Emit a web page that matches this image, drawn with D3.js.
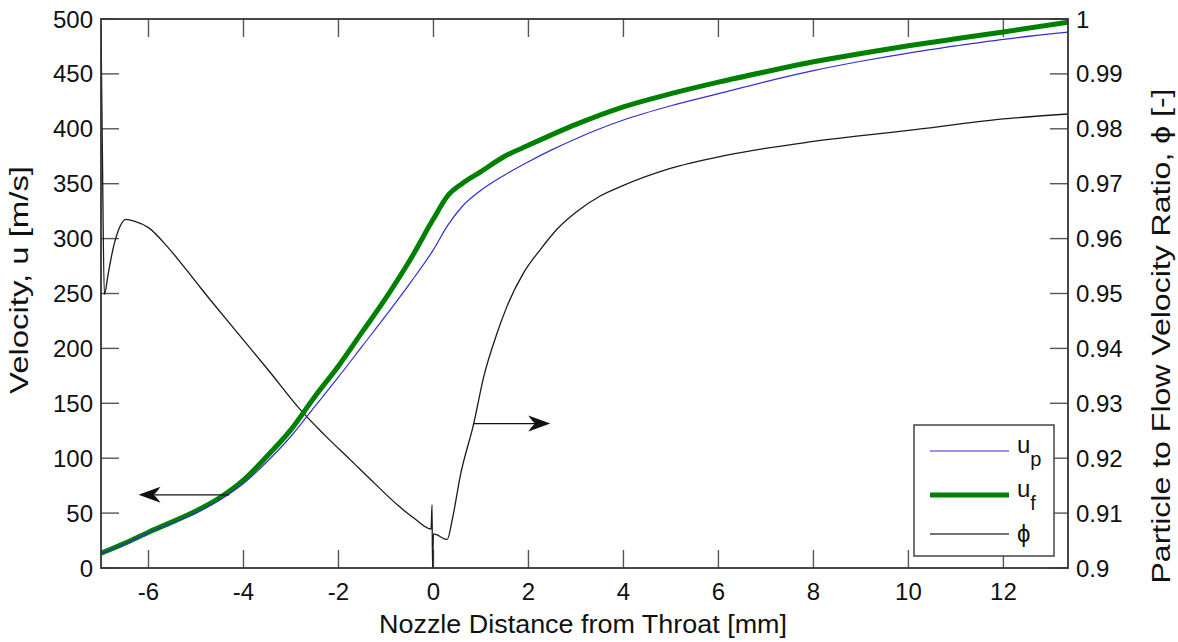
<!DOCTYPE html>
<html>
<head>
<meta charset="utf-8">
<script src="https://cdn.jsdelivr.net/npm/d3@7"></script>
<style>
  html, body { margin: 0; padding: 0; background: #fff; }
  svg { display: block; }
  text { font-family: "Liberation Sans", Arial, sans-serif; fill: #111; }
</style>
</head>
<body>
<svg id="chart" width="1178" height="642"></svg>
<script>
// ---------------- DATA ----------------
const xDomain = [-7, 13.36];
const xTicks = [-6, -4, -2, 0, 2, 4, 6, 8, 10, 12];
const leftTicks = [0, 50, 100, 150, 200, 250, 300, 350, 400, 450, 500];
const rightTicks = [0.9, 0.91, 0.92, 0.93, 0.94, 0.95, 0.96, 0.97, 0.98, 0.99, 1];
const rightTickLabels = ["0.9", "0.91", "0.92", "0.93", "0.94", "0.95", "0.96", "0.97", "0.98", "0.99", "1"];

// flow velocity u_f [m/s]
const ufX = [-7, -6.5, -6, -5.5, -5, -4.5, -4, -3.5, -3, -2.5, -2, -1.5, -1, -0.5, 0, 0.3, 0.6, 1, 1.5, 2, 3, 4, 5, 6, 7, 8, 9, 10, 11, 12, 13.36];
const ufY = [13.4, 22.5, 32.6, 42, 52, 64, 80, 102, 126, 156, 184, 215, 246, 280, 318, 339, 350, 361, 375, 385, 404, 420, 432, 442.5, 452, 461, 468.5, 475.6, 482, 488.2, 497];

// particle velocity u_p [m/s]
const upX = [-7, -6.5, -6, -5.5, -5, -4.5, -4, -3.5, -3, -2.5, -2, -1.5, -1, -0.5, 0, 0.3, 0.6, 1, 1.5, 2, 2.5, 3, 3.5, 4, 5, 6, 7, 8, 9, 10, 11, 12, 13.36];
const upY = [13, 22, 32, 41, 50, 62, 77, 97, 120, 147, 174, 202, 230, 259, 290, 312, 329, 344, 358, 370, 381, 391, 400, 408, 421, 432, 443, 453, 461.5, 469, 475.5, 481.5, 488];

// particle to flow velocity ratio phi [-]
const phiX = [-7, -6.97, -6.93, -6.85, -6.75, -6.6, -6.48, -6.3, -6.0, -5.6, -5.2, -4.9, -4.2, -3.5, -2.8, -2.3, -1.75, -1.25, -0.76, -0.4, -0.05, -0.03, -0.02, 0.0, 0.29, 0.4, 0.57, 0.85, 1.06, 1.34, 1.55, 1.9, 2.25, 2.6, 3.0, 3.52, 4.0, 4.92, 6.18, 8, 10, 12, 13.36];
const phiY = [0.999, 0.975, 0.9498, 0.9535, 0.958, 0.9622, 0.9635, 0.9632, 0.962, 0.9585, 0.9543, 0.951, 0.9436, 0.9363, 0.9288, 0.9243, 0.9197, 0.9155, 0.9115, 0.909, 0.9071, 0.9115, 0.9, 0.9062, 0.9052, 0.909, 0.917, 0.9264, 0.9349, 0.9428, 0.9477, 0.9538, 0.958, 0.9617, 0.9648, 0.9678, 0.9697, 0.9726, 0.9752, 0.9777, 0.9797, 0.9818, 0.9827];

// annotation arrows (data coordinates)
const leftArrow = { x0: -4.3, x1: -6.21, y: 66.6 };      // on velocity axis
const rightArrow = { x0: 0.84, x1: 2.46, y: 0.9263 };    // on ratio axis

const legendItems = ["up", "uf", "phi"];

// ---------------- LAYOUT ----------------
const svg = d3.select("#chart");
const L = 101, R = 1068, T = 19, B = 568;

const x = d3.scaleLinear().domain(xDomain).range([L, R]);
const yL = d3.scaleLinear().domain([0, 500]).range([B, T]);
const yR = d3.scaleLinear().domain([0.9, 1]).range([B, T]);

const tickLen = 18;
const fontTick = 24;

svg.append("clipPath").attr("id", "clip")
  .append("rect").attr("x", L).attr("y", T).attr("width", R - L).attr("height", B - T);

// ticks (inward)
const tg = svg.append("g").attr("stroke", "#555").attr("stroke-width", 1.4);
xTicks.forEach(v => {
  tg.append("line").attr("x1", x(v)).attr("x2", x(v)).attr("y1", B).attr("y2", B - tickLen);
  tg.append("line").attr("x1", x(v)).attr("x2", x(v)).attr("y1", T).attr("y2", T + tickLen);
});
leftTicks.forEach(v => {
  tg.append("line").attr("x1", L).attr("x2", L + tickLen).attr("y1", yL(v)).attr("y2", yL(v));
});
rightTicks.forEach(v => {
  tg.append("line").attr("x1", R).attr("x2", R - tickLen).attr("y1", yR(v)).attr("y2", yR(v));
});

// tick labels
svg.append("g").selectAll("text").data(xTicks).join("text")
  .attr("x", d => x(d)).attr("y", 600)
  .attr("text-anchor", "middle").attr("font-size", fontTick)
  .text(d => d < 0 ? "-" + Math.abs(d) : d);
svg.append("g").selectAll("text").data(leftTicks).join("text")
  .attr("x", 93).attr("y", d => yL(d) + 8.5)
  .attr("text-anchor", "end").attr("font-size", fontTick)
  .text(d => d);
svg.append("g").selectAll("text").data(rightTicks).join("text")
  .attr("x", 1076).attr("y", d => yR(d) + 8.5)
  .attr("text-anchor", "start").attr("font-size", fontTick)
  .text((d, i) => rightTickLabels[i]);

// axis titles
svg.append("text").attr("x", 583).attr("y", 633)
  .attr("text-anchor", "middle").attr("font-size", 25)
  .attr("textLength", 408).attr("lengthAdjust", "spacingAndGlyphs")
  .text("Nozzle Distance from Throat [mm]");
svg.append("text").attr("transform", `translate(28,280) rotate(-90)`)
  .attr("text-anchor", "middle").attr("font-size", 25)
  .attr("textLength", 228).attr("lengthAdjust", "spacingAndGlyphs")
  .text("Velocity, u [m/s]");
svg.append("text").attr("transform", `translate(1170,336) rotate(-90)`)
  .attr("text-anchor", "middle").attr("font-size", 25)
  .attr("textLength", 495).attr("lengthAdjust", "spacingAndGlyphs")
  .text("Particle to Flow Velocity Ratio, \u03D5 [-]");

// curves
const plot = svg.append("g").attr("clip-path", "url(#clip)");
const lineL = d3.line().x(d => x(d[0])).y(d => yL(d[1])).curve(d3.curveMonotoneX);
const lineR = d3.line().x(d => x(d[0])).y(d => yR(d[1])).curve(d3.curveMonotoneX);

const phiData = d3.zip(phiX, phiY);
const upData = d3.zip(upX, upY);
const ufData = d3.zip(ufX, ufY);

plot.append("path").datum(phiData).attr("d", lineR)
  .attr("fill", "none").attr("stroke", "#1a1a1a").attr("stroke-width", 1.3);
plot.append("path").datum(ufData).attr("d", lineL)
  .attr("fill", "none").attr("stroke", "#008000").attr("stroke-width", 5);
plot.append("path").datum(upData).attr("d", lineL)
  .attr("fill", "none").attr("stroke", "#3030d0").attr("stroke-width", 1.2);

// arrows
function arrow(px0, px1, py) {
  const dir = Math.sign(px1 - px0);
  const len = 22, half = 8, notch = 7;
  plot.append("line").attr("x1", px0).attr("x2", px1 - dir * len * 0.6).attr("y1", py).attr("y2", py)
    .attr("stroke", "#111").attr("stroke-width", 1.4);
  const tip = [px1, py];
  const p1 = [px1 - dir * len, py - half];
  const p2 = [px1 - dir * (len - notch), py];
  const p3 = [px1 - dir * len, py + half];
  plot.append("path")
    .attr("d", `M${tip}L${p1}Q${px1 - dir * (len - notch * 0.6)},${py - 2} ${p2}Q${px1 - dir * (len - notch * 0.6)},${py + 2} ${p3}Z`)
    .attr("fill", "#111");
}
arrow(x(leftArrow.x0), x(leftArrow.x1), yL(leftArrow.y));
arrow(x(rightArrow.x0), x(rightArrow.x1), yR(rightArrow.y));

// axes box
svg.append("rect").attr("x", L).attr("y", T).attr("width", R - L).attr("height", B - T)
  .attr("fill", "none").attr("stroke", "#333").attr("stroke-width", 1.8);

// legend
const lg = svg.append("g");
lg.append("rect").attr("x", 914).attr("y", 425).attr("width", 140).attr("height", 131)
  .attr("fill", "#fff").attr("stroke", "#444").attr("stroke-width", 1.5);
const legY = [451, 495, 534];
const legStyles = [
  { stroke: "#3030d0", w: 1.2 },
  { stroke: "#008000", w: 5 },
  { stroke: "#444", w: 1.3 }
];
legendItems.forEach((k, i) => {
  lg.append("line").attr("x1", 930).attr("x2", 1009).attr("y1", legY[i]).attr("y2", legY[i])
    .attr("stroke", legStyles[i].stroke).attr("stroke-width", legStyles[i].w);
  const t = lg.append("text").attr("x", 1017).attr("y", legY[i] + 2).attr("font-size", 24);
  if (k === "phi") {
    t.attr("y", legY[i] + 8).text("\u03D5");
  } else {
    t.append("tspan").text("u");
    t.append("tspan").attr("dy", 13).attr("font-size", 20).text(k === "up" ? "p" : "f");
  }
});
</script>
</body>
</html>
